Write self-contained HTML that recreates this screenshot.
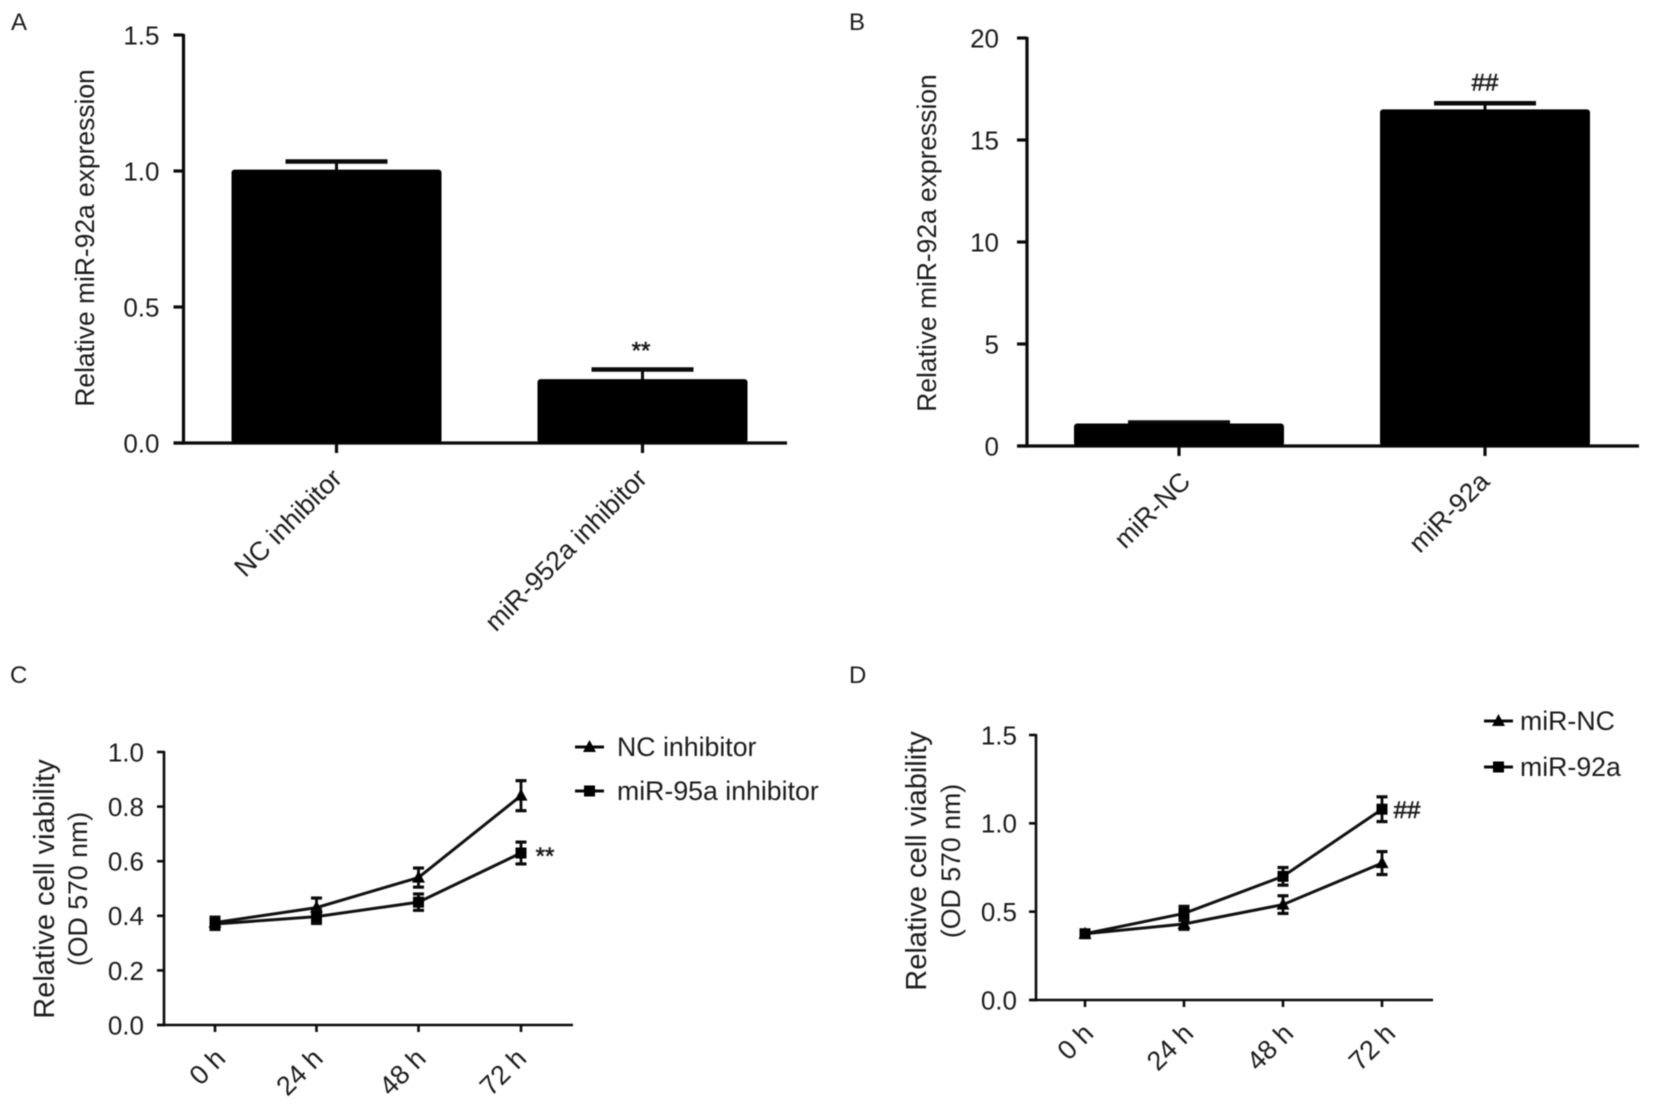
<!DOCTYPE html>
<html>
<head>
<meta charset="utf-8">
<title>miR-92a expression and cell viability</title>
<style>
html,body{margin:0;padding:0;background:#fff;width:1654px;height:1105px;overflow:hidden}
svg{display:block;filter:blur(0.6px)}
text{font-family:"Liberation Sans",sans-serif;fill:#1c1c1c}
</style>
</head>
<body>
<svg id="fig" width="1654" height="1105" viewBox="0 0 1654 1105" xmlns="http://www.w3.org/2000/svg"></svg>
<script>
// Panel A
const aCategories = ['NC inhibitor', 'miR-952a inhibitor'];
const aValues = [1.005, 0.235];
const aErrors = [0.03, 0.035];
const aTicks = ['0.0', '0.5', '1.0', '1.5'];
// Panel B
const bCategories = ['miR-NC', 'miR-92a'];
const bValues = [1.1, 16.5];
const bErrors = [0.05, 0.3];
const bTicks = ['0', '5', '10', '15', '20'];
// Panel C
const cTimes = ['0 h', '24 h', '48 h', '72 h'];
const cNc = [0.375, 0.43, 0.54, 0.84];
const cNcErr = [0.02, 0.035, 0.035, 0.055];
const cMir = [0.37, 0.397, 0.45, 0.63];
const cMirErr = [0.02, 0.025, 0.03, 0.04];
const cTicks = ['0.0', '0.2', '0.4', '0.6', '0.8', '1.0'];
// Panel D
const dTimes = ['0 h', '24 h', '48 h', '72 h'];
const dNc = [0.375, 0.43, 0.54, 0.775];
const dNcErr = [0.02, 0.03, 0.05, 0.065];
const dMir = [0.375, 0.49, 0.70, 1.08];
const dMirErr = [0.02, 0.04, 0.05, 0.07];
const dTicks = ['0.0', '0.5', '1.0', '1.5'];

const svg = document.getElementById('fig');
const NS = 'http://www.w3.org/2000/svg';

function mk(tag, attrs, name, parent) {
  const el = document.createElementNS(NS, tag);
  for (const k in attrs) el.setAttribute(k, attrs[k]);
  
  
  (parent || svg).appendChild(el);
  return el;
}
function line(x1, y1, x2, y2, w, name, parent) {
  return mk('line', {x1, y1, x2, y2, stroke: '#0a0a0a', 'stroke-width': w}, name, parent);
}
function txt(s, x, y, size, anchor, name, parent, rot) {
  const a = {x, y, 'font-size': size, 'text-anchor': anchor};
  if (rot !== undefined) a.transform = 'rotate(' + rot + ' ' + x + ' ' + y + ')';
  const t = mk('text', a, name, parent);
  t.textContent = s;
  return t;
}
function mark(s, x, y, name, parent) {
  const t = txt(s, x, y, 24, 'middle', name, parent);
  t.setAttribute('stroke', '#1c1c1c');
  t.setAttribute('stroke-width', '0.6');
  return t;
}
function axes(g, o, ticks, yMax) {
  const y = v => o.y0 - (v / yMax) * (o.y0 - o.yTop);
  line(o.x0, o.yTop - 1, o.x0, o.y0 + o.axisW / 2, o.axisW, 'y-axis', g);
  line(o.x0 - o.tickLen, o.y0, o.xRight, o.y0, o.axisW, 'x-axis', g);
  ticks.forEach(l => {
    const v = parseFloat(l);
    line(o.x0 - o.tickLen, y(v), o.x0, y(v), o.axisW, 'y-tick-' + l, g);
    txt(l, o.x0 - o.tickLen - o.gap, y(v) + o.tickSize * 0.36, o.tickSize, 'end', 'y-tick-label-' + l, g);
  });
  return y;
}
function barPanel(name, o, cats, vals, errs, ticks, yMax) {
  const g = mk('g', {}, name);
  const y = axes(g, o, ticks, yMax);
  cats.forEach((c, i) => {
    const cx = o.xs[i];
    const w = o.barW;
    const top = y(vals[i]);
    const errTop = y(vals[i] + errs[i]);
    line(cx, errTop, cx, top + 2, 3, 'error-stem-' + c, g);
    line(cx - 51, errTop, cx + 51, errTop, 4.5, 'error-cap-' + c, g);
    mk('rect', {x: cx - w / 2, y: top, width: w, height: o.y0 - top, rx: 3, fill: '#000'}, 'bar-' + c, g);
    line(cx, o.y0, cx, o.y0 + o.tickLen, o.axisW, 'x-tick-' + c, g);
    txt(c, cx + 5 + o.labelShift[i], o.y0 + 37, 26.6, 'end', 'x-tick-label-' + c, g, -45);
  });
  return {g, y};
}
function triangle(g, x, y, name) {
  mk('path', {d: 'M' + x + ' ' + (y - 7) + 'L' + (x + 6.5) + ' ' + (y + 5) + 'L' + (x - 6.5) + ' ' + (y + 5) + 'Z', fill: '#000'}, name, g);
}
function square(g, x, y, name) {
  mk('rect', {x: x - 5.5, y: y - 5.5, width: 11, height: 11, fill: '#000'}, name, g);
}
function lineSeries(g, xs, y, vals, errs, marker, name) {
  const pts = vals.map((v, i) => xs[i] + ',' + y(v)).join(' ');
  mk('polyline', {points: pts, fill: 'none', stroke: '#111', 'stroke-width': 3}, name + '-line', g);
  vals.forEach((v, i) => {
    const hi = y(v + errs[i]), lo = y(v - errs[i]), x = xs[i];
    line(x, hi, x, lo, 2.8, name + '-error-' + i, g);
    line(x - 5.5, hi, x + 5.5, hi, 3.2, name + '-error-cap-high-' + i, g);
    line(x - 5.5, lo, x + 5.5, lo, 3.2, name + '-error-cap-low-' + i, g);
    marker(g, x, y(v), name + '-point-' + i);
  });
}
function legendEntry(g, x, y, textX, label, marker, name) {
  line(x, y, x + 29, y, 3, name + '-line', g);
  marker(g, x + 14.5, y, name + '-marker');
  txt(label, textX, y + 9, 26.7, 'start', name + '-label', g);
}
function linePanel(name, o, times, ticks, yMax, s1, e1, s2, e2) {
  const g = mk('g', {}, name);
  const y = axes(g, o, ticks, yMax);
  times.forEach((t, i) => {
    const x = o.xs[i];
    line(x, o.y0, x, o.y0 + o.tickLen, o.axisW, 'x-tick-' + t, g);
    txt(t, x + 7 + o.labelShift[i], o.y0 + 35, 27, 'end', 'x-tick-label-' + t, g, -45);
  });
  lineSeries(g, o.xs, y, s1, e1, triangle, 'series-nc');
  lineSeries(g, o.xs, y, s2, e2, square, 'series-mir');
  return {g, y};
}

// Panel letters
txt('A', 11, 30, 24, 'start', 'panel-label-a');
txt('B', 849, 30, 24, 'start', 'panel-label-b');
txt('C', 10, 683, 24, 'start', 'panel-label-c');
txt('D', 849, 683, 24, 'start', 'panel-label-d');

// A
const pa = barPanel('panel-a',
  {x0: 183.5, y0: 443, yTop: 35, xRight: 787, tickLen: 10, axisW: 3.2, tickSize: 26, gap: 14, xs: [336.5, 642.5], barW: 210, labelShift: [2, 1]},
  aCategories, aValues, aErrors, aTicks, 1.5);
txt('Relative miR-92a expression', 94, 238, 26.4, 'middle', 'y-axis-title-a', pa.g, -90);
mark('**', 641, pa.y(aValues[1] + aErrors[1]) - 11, 'significance-a', pa.g);

// B
const pb = barPanel('panel-b',
  {x0: 1027, y0: 446, yTop: 38, xRight: 1639, tickLen: 10, axisW: 3.2, tickSize: 26, gap: 18, xs: [1179, 1485], barW: 210, labelShift: [8, 1]},
  bCategories, bValues, bErrors, bTicks, 20);
txt('Relative miR-92a expression', 936, 243, 26.4, 'middle', 'y-axis-title-b', pb.g, -90);
mark('##', 1485, pb.y(bValues[1] + bErrors[1]) - 13, 'significance-b', pb.g);

// C
const pc = linePanel('panel-c',
  {x0: 164, y0: 1025, yTop: 752, xRight: 573, tickLen: 7, axisW: 2.6, tickSize: 26, gap: 13, xs: [215, 316.5, 418.5, 521], labelShift: [5, 1, 2, 0]},
  cTimes, cTicks, 1.0, cNc, cNcErr, cMir, cMirErr);
txt('Relative cell viability', 54, 889, 29, 'middle', 'y-axis-title-c', pc.g, -90);
txt('(OD 570 nm)', 87, 889, 26.7, 'middle', 'y-axis-subtitle-c', pc.g, -90);
mark('**', 545, pc.y(cMir[3]) + 11, 'significance-c', pc.g);
legendEntry(pc.g, 575, 747, 617, 'NC inhibitor', triangle, 'legend-nc-inhibitor');
legendEntry(pc.g, 575, 791, 617, 'miR-95a inhibitor', square, 'legend-mir-95a-inhibitor');

// D
const pd = linePanel('panel-d',
  {x0: 1036, y0: 1000, yTop: 735, xRight: 1433, tickLen: 7, axisW: 2.6, tickSize: 26, gap: 12, xs: [1085, 1184, 1283, 1382], labelShift: [3, 4, 5, 8]},
  dTimes, dTicks, 1.5, dNc, dNcErr, dMir, dMirErr);
txt('Relative cell viability', 926, 861, 29, 'middle', 'y-axis-title-d', pd.g, -90);
txt('(OD 570 nm)', 960, 861, 26.7, 'middle', 'y-axis-subtitle-d', pd.g, -90);
mark('##', 1407, pd.y(dMir[3]) + 9, 'significance-d', pd.g);
legendEntry(pd.g, 1484, 721, 1520, 'miR-NC', triangle, 'legend-mir-nc');
legendEntry(pd.g, 1484, 767, 1520, 'miR-92a', square, 'legend-mir-92a');
</script>
</body>
</html>
